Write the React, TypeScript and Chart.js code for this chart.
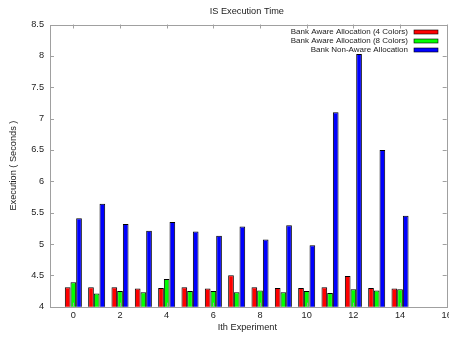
import React, { useEffect, useRef } from "react";
import { Chart, registerables } from "chart.js";

Chart.register(...registerables);

const experiments = [0, 1, 2, 3, 4, 5, 6, 7, 8, 9, 10, 11, 12, 13, 14];
const aware4 = [4.31, 4.31, 4.31, 4.29, 4.3, 4.31, 4.29, 4.5, 4.31, 4.3, 4.3, 4.31, 4.49, 4.3, 4.29];
const aware8 = [4.39, 4.21, 4.25, 4.23, 4.44, 4.25, 4.25, 4.23, 4.26, 4.23, 4.25, 4.22, 4.28, 4.26, 4.28];
const nonAware = [5.41, 5.64, 5.32, 5.21, 5.35, 5.2, 5.13, 5.28, 5.07, 5.3, 4.98, 7.1, 8.03, 6.5, 5.45];
const seriesLabels = [
  "Bank Aware Allocation (4 Colors)",
  "Bank Aware Allocation (8 Colors)",
  "Bank Non-Aware Allocation",
];
const seriesColors = ["#ff0000", "#00ff00", "#0000ff"];
const xTickValues = [0, 2, 4, 6, 8, 10, 12, 14, 16];
const yTickValues = [4, 4.5, 5, 5.5, 6, 6.5, 7, 7.5, 8, 8.5];
const titleText = "IS Execution Time";
const xTitle = "Ith Experiment";
const yTitle = "Execution ( Seconds )";

const FONT = "'Liberation Sans', Arial, sans-serif";
const TEXT = "#222";
const FRAME = "#a0a0a0";

const gnuplotPlugin = {
  id: "gnuplotDecor",
  afterDatasetsDraw(chart: any) {
    const { ctx, chartArea: a, scales } = chart;
    const xs = scales.x;
    const ys = scales.y;
    ctx.save();
    // frame
    ctx.strokeStyle = FRAME;
    ctx.lineWidth = 1;
    ctx.strokeRect(Math.round(a.left) + 0.5, Math.round(a.top) + 0.5, Math.round(a.right - a.left), Math.round(a.bottom - a.top));
    // inward ticks
    const tl = 4;
    ctx.beginPath();
    for (const v of yTickValues) {
      const y = Math.round(ys.getPixelForValue(v)) + 0.5;
      ctx.moveTo(a.left, y);
      ctx.lineTo(a.left + tl, y);
      ctx.moveTo(a.right, y);
      ctx.lineTo(a.right - tl, y);
    }
    for (const v of xTickValues) {
      const x = Math.round(xs.getPixelForValue(v)) + 0.5;
      ctx.moveTo(x, a.bottom);
      ctx.lineTo(x, a.bottom - tl);
      ctx.moveTo(x, a.top);
      ctx.lineTo(x, a.top + tl);
    }
    ctx.stroke();

    // titles
    ctx.fillStyle = TEXT;
    ctx.font = `9.2px ${FONT}`;
    ctx.textAlign = "center";
    ctx.textBaseline = "middle";
    const cx = (a.left + a.right) / 2;
    ctx.fillText(titleText, cx - 1.5, 11);
    ctx.fillText(xTitle, cx - 1, 327);
    ctx.save();
    ctx.translate(13.5, (a.top + a.bottom) / 2);
    ctx.rotate(-Math.PI / 2);
    ctx.fillText(yTitle, 0, 0);
    ctx.restore();

    // legend (gnuplot style: text right aligned, sample on right)
    ctx.font = `8px ${FONT}`;
    ctx.textAlign = "right";
    chart.data.datasets.forEach((ds: any, i: number) => {
      const y = 31.5 + i * 9.3;
      ctx.fillStyle = TEXT;
      ctx.fillText(ds.label, 408, y);
      ctx.fillStyle = ds.backgroundColor;
      ctx.fillRect(414, Math.round(y - 2), 24, 4);
      ctx.strokeStyle = "#000";
      ctx.lineWidth = 0.6;
      ctx.strokeRect(414, Math.round(y - 2), 24, 4);
    });
    ctx.restore();
  },
};

export default function App() {
  const ref = useRef<HTMLCanvasElement | null>(null);
  useEffect(() => {
    if (!ref.current) return;
    const seriesValues = [aware4, aware8, nonAware];
    const chart = new Chart(ref.current, {
      type: "bar",
      data: {
        datasets: seriesValues.map((vals, i) => ({
          label: seriesLabels[i],
          data: experiments.map((x, j) => ({ x, y: vals[j] })),
          backgroundColor: seriesColors[i],
          borderColor: "#000",
          borderWidth: 1,
          categoryPercentage: 0.73,
          barPercentage: 1,
        })),
      },
      options: {
        animation: false,
        responsive: false,
        layout: { padding: { top: 24.5, right: 2.3, left: 0, bottom: 0 } },
        plugins: {
          legend: { display: false },
          title: { display: false },
          tooltip: { enabled: false },
        },
        scales: {
          x: {
            type: "linear",
            min: -1,
            max: 16,
            offset: false,
            grid: { display: false, drawTicks: false, tickLength: 0 },
            border: { display: false },
            afterBuildTicks: (s: any) => {
              s.ticks = xTickValues.map((v) => ({ value: v }));
            },
            afterFit: (s: any) => {
              s.height = 30.3;
              s.paddingLeft = 0;
              s.paddingRight = 0;
            },
            ticks: {
              autoSkip: false,
              maxRotation: 0,
              padding: 3,
              color: TEXT,
              font: { family: FONT, size: 9.2 },
              callback: (v: any) => `${v}`,
            },
          },
          y: {
            type: "linear",
            min: 4,
            max: 8.5,
            grid: { display: false, drawTicks: false, tickLength: 0 },
            border: { display: false },
            afterBuildTicks: (s: any) => {
              s.ticks = yTickValues.map((v) => ({ value: v }));
            },
            afterFit: (s: any) => {
              s.width = 50;
              s.paddingTop = 0;
              s.paddingBottom = 0;
            },
            ticks: {
              padding: 6,
              color: TEXT,
              font: { family: FONT, size: 9.2 },
              callback: (v: any) => `${v}`,
            },
          },
        },
      },
      plugins: [gnuplotPlugin],
    } as any);
    return () => chart.destroy();
  }, []);
  return (
    <div style={{ position: "fixed", left: 0, top: 0, width: 449, height: 337, background: "#fff" }}>
      <canvas ref={ref} width={449} height={337} style={{ display: "block", width: 449, height: 337 }} />
    </div>
  );
}
